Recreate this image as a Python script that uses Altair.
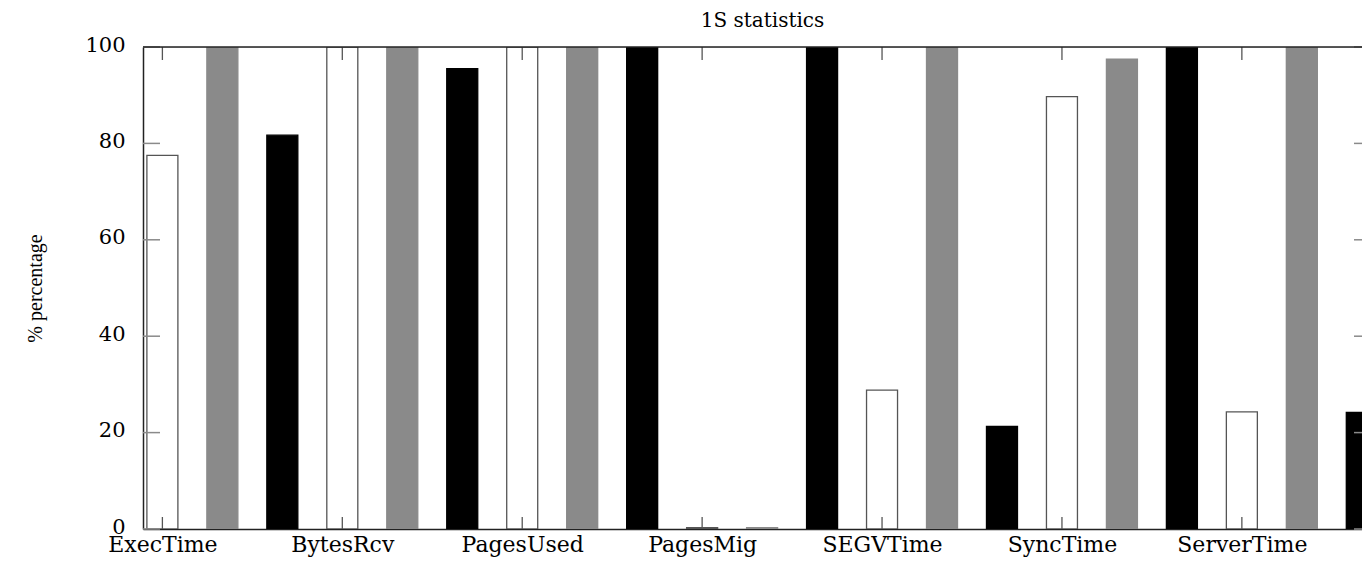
import altair as alt
import pandas as pd

# ---- data ----
categories = ["ExecTime", "BytesRcv", "PagesUsed", "PagesMig", "SEGVTime", "SyncTime", "ServerTime"]
white_vals = [77.5, 100, 100, 0.3, 28.8, 89.7, 24.3]
gray_vals = [100, 100, 100, 0.3, 100, 97.5, 100]
black_vals = [81.7, 95.5, 100, 100, 21.3, 100, 24.2]
y_tick_values = [0, 20, 40, 60, 80, 100]

series_names = ["white", "gray", "black"]
series_fill = ["#ffffff", "#8a8a8a", "#000000"]
series_stroke = ["#555555", "#8a8a8a", "#000000"]
series_offset = {"white": 0.0, "gray": 1 / 3, "black": 2 / 3}

rows = []
for name, vals in zip(series_names, [white_vals, gray_vals, black_vals]):
    for i, v in enumerate(vals):
        rows.append({"cat": categories[i], "series": name, "value": v,
                     "pos": i + series_offset[name]})
bars_df = pd.DataFrame(rows)
ytick_df = pd.DataFrame({"value": y_tick_values})
xtick_df = pd.DataFrame({"pos": list(range(len(categories)))})
one_df = pd.DataFrame({"a": [0]})

W, H = 1219, 482
XMIN = -0.08
XMAX = XMIN + W / 181.4
xscale = alt.Scale(domain=[XMIN, XMAX], nice=False, zero=False)
yscale = alt.Scale(domain=[0, 100], nice=False)

label_expr = "[" + ",".join("'%s'" % c for c in categories) + "][datum.value]"

x_axis = alt.Axis(values=list(range(len(categories))), labelExpr=label_expr,
                  labelFont="DejaVu Serif", labelFontSize=22, labelColor="#000000",
                  labelBaseline="alphabetic",
                  ticks=False, tickSize=0, labelPadding=22, labelFlush=False,
                  labelOverlap=False, labelBound=False, grid=False, title=None,
                  domainColor="#222222", domainWidth=1.5)
y_axis = alt.Axis(values=y_tick_values, labelFont="DejaVu Serif", labelFontSize=21,
                  labelColor="#000000", ticks=False, tickSize=0, labelPadding=18,
                  labelOffset=-2,
                  grid=False, domainColor="#222222", domainWidth=1.5,
                  title="% percentage", titleFont="Liberation Serif", titleFontSize=20,
                  titleFontWeight="normal", titleColor="#000000",
                  titleX=-108, titleY=H / 2, titleBaseline="middle", titleAngle=270)

bars = alt.Chart(bars_df).mark_bar(width=31, clip=True, strokeWidth=1.3).encode(
    x=alt.X("pos:Q", scale=xscale, axis=x_axis),
    y=alt.Y("value:Q", scale=yscale, axis=y_axis),
    fill=alt.Fill("series:N", scale=alt.Scale(domain=series_names, range=series_fill), legend=None),
    stroke=alt.Stroke("series:N", scale=alt.Scale(domain=series_names, range=series_stroke), legend=None),
)

tick_color = "#8a8a8a"
left_ticks = alt.Chart(ytick_df).mark_rule(color=tick_color, strokeWidth=1.5).encode(
    y=alt.Y("value:Q", scale=yscale), x=alt.value(0), x2=alt.value(17))
right_ticks = alt.Chart(ytick_df).mark_rule(color=tick_color, strokeWidth=1.5).encode(
    y=alt.Y("value:Q", scale=yscale), x=alt.value(W - 8), x2=alt.value(W))
bottom_ticks = alt.Chart(xtick_df).mark_rule(color="#555555", strokeWidth=1.3).encode(
    x=alt.X("pos:Q", scale=xscale), y=alt.value(H), y2=alt.value(H - 12))
top_ticks = alt.Chart(xtick_df).mark_rule(color="#555555", strokeWidth=1.3).encode(
    x=alt.X("pos:Q", scale=xscale), y=alt.value(0), y2=alt.value(13))
top_border = alt.Chart(one_df).mark_rule(color="#222222", strokeWidth=1.5).encode(
    y=alt.value(0), x=alt.value(0), x2=alt.value(W))

chart = alt.layer(bars, left_ticks, right_ticks, bottom_ticks, top_ticks, top_border).properties(
    width=W, height=H,
    title=alt.TitleParams("1S statistics", font="DejaVu Serif", fontSize=20,
                          fontWeight="normal", color="#000000", offset=3, dx=10,
                          frame="group"),
    autosize=alt.AutoSizeParams(type="none"),
    padding={"left": 135, "top": 39, "right": 0, "bottom": 28},
).configure_view(stroke=None).configure(background="#ffffff")

chart.save("out.html", embed_options={"renderer": "svg", "actions": False})
